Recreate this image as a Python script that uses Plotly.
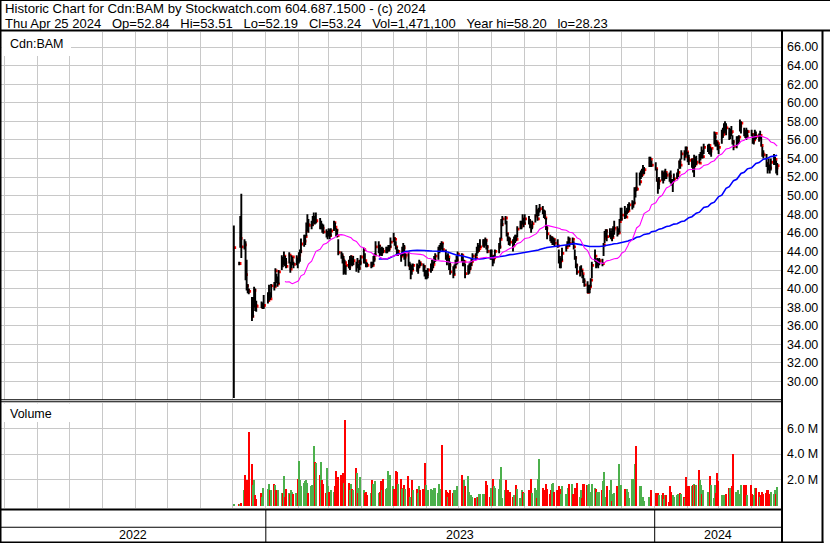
import pandas as pd
import plotly.graph_objects as go

# ---------------- data ----------------
HOLIDAYS = ["2022-12-26", "2022-12-27", "2023-01-02", "2023-02-20", "2023-04-07",
            "2023-05-22", "2023-07-03", "2023-08-07", "2023-09-04", "2023-10-09",
            "2023-12-25", "2023-12-26", "2024-01-01", "2024-02-19", "2024-03-29"]
FIRST_DAY = "2022-12-02"
START_REGULAR = "2022-12-07"
LAST_DAY = "2024-04-25"

high = [
    46.8, 42.9, 47.8, 50.2, 45.3, 45.1, 43.1, 40.5, 40.0, 39.1, 39.1, 40.2, 40.0, 38.7, 38.6, 38.5, 39.3,  # Dec 22
    39.6, 40.4, 39.6, 40.5, 40.7, 42.2, 41.6, 41.3, 42.0, 43.6, 43.4, 44.0, 43.5, 43.3, 43.9, 42.9, 43.6, 43.4, 42.9, 43.6, 43.3,  # Jan 23
    43.9, 44.2, 45.4, 45.8, 45.8, 47.1, 48.0, 47.5, 47.3, 47.8, 48.2, 47.8, 48.2, 47.6, 47.3, 47.0, 46.9, 46.4, 46.2,  # Feb
    46.5, 46.4, 46.5, 47.3, 47.1, 46.5, 46.4, 45.3, 44.0, 43.8, 43.5, 43.1, 42.5, 43.1, 43.5, 43.6, 43.3, 43.5, 42.9, 43.3, 42.7, 43.1, 43.6,  # Mar
    44.4, 43.8, 42.9, 42.8, 42.9, 42.9, 43.5, 43.8, 45.1, 45.1, 44.7, 44.4, 44.5, 44.4, 44.5, 44.5, 44.7, 44.7, 45.5,  # Apr
    46.0, 45.5, 45.1, 44.5, 44.2, 43.8, 44.5, 44.9, 44.7, 43.8, 44.0, 42.9, 42.7, 42.5, 42.7, 42.7, 42.5, 43.1, 42.9, 42.7, 42.5, 42.0,  # May
    42.0, 42.2, 42.7, 43.1, 42.9, 43.5, 43.8, 44.5, 44.7, 44.9, 45.1, 44.9, 44.2, 43.6, 43.8, 43.3, 42.9, 42.4, 42.6, 43.1, 43.5, 44.0,  # Jun
    43.8, 43.5, 43.1, 42.7, 42.5, 42.7, 42.9, 43.3, 43.8, 43.8, 44.5, 44.9, 44.7, 45.3, 45.3, 45.3, 45.5, 45.3, 44.7, 44.2,  # Jul
    44.2, 43.5, 43.6, 44.2, 44.9, 45.5, 47.5, 47.8, 47.8, 47.3, 46.0, 45.6, 45.5, 45.3, 45.6, 45.8, 45.8, 46.7, 47.3, 47.3, 48.0, 47.6,  # Aug
    48.0, 47.8, 47.5, 46.9, 47.3, 48.0, 49.0, 48.5, 48.7, 49.1, 48.9, 48.5, 48.4, 47.6, 46.7, 45.8, 45.6, 45.6, 45.5, 45.3,  # Sep
    45.3, 44.2, 43.5, 43.3, 44.4, 44.7, 45.1, 45.6, 45.5, 45.5, 45.1, 44.2, 43.5, 42.7, 42.4, 42.5, 42.0, 41.5, 41.1, 40.8, 40.4,  # Oct
    40.4, 41.1, 42.9, 44.2, 43.1, 43.3, 43.2, 43.3, 43.2, 44.9, 46.2, 46.4, 46.4, 46.5, 46.2, 46.5, 46.7, 47.3, 46.7, 46.5, 47.5, 48.7,  # Nov
    48.7, 48.9, 48.4, 48.7, 49.1, 49.3, 49.5, 49.4, 50.9, 50.9, 52.5, 52.5, 52.7, 52.9, 53.3, 53.1, 54.2, 54.2, 53.8,  # Dec
    53.6, 52.9, 51.6, 52.0, 52.7, 52.5, 52.7, 52.9, 52.5, 52.5, 52.7, 51.8, 51.8, 52.4, 52.5, 52.9, 53.8, 54.0, 54.9, 54.9, 55.3, 55.3,  # Jan 24
    54.7, 54.4, 54.0, 53.8, 54.4, 54.2, 54.3, 54.5, 54.7, 55.3, 54.9, 55.6, 55.5, 55.6, 55.3, 55.1, 56.9, 56.7, 56.0, 55.8,  # Feb
    55.5, 57.1, 57.3, 57.8, 58.0, 57.8, 57.3, 57.2, 57.5, 56.5, 56.0, 56.4, 56.4, 56.5, 58.2, 58.0, 57.3, 57.1, 57.3, 57.1,  # Mar
    57.1, 56.7, 56.4, 57.1, 56.9, 56.7, 57.0, 56.4, 55.3, 54.9, 54.5, 53.6, 54.0, 53.3, 54.0, 54.5, 54.2, 53.8, 53.51,  # Apr
]
low = [
    28.23, 42.5, 44.4, 43.3, 44.2, 40.9, 39.8, 39.5, 39.4, 36.5, 36.9, 38.0, 37.6, 37.5, 37.9, 37.8, 37.8,
    38.4, 38.7, 38.8, 39.0, 39.8, 40.2, 40.6, 40.2, 40.5, 42.0, 42.3, 42.6, 42.4, 42.2, 42.7, 41.7, 42.2, 42.5, 42.2, 42.5, 42.2,
    42.7, 42.9, 43.8, 44.5, 44.7, 45.6, 46.2, 46.0, 46.4, 46.7, 47.0, 46.9, 47.0, 46.4, 46.4, 46.0, 45.9, 45.5, 45.3,
    45.6, 45.3, 45.6, 46.2, 46.4, 45.6, 45.5, 43.6, 43.2, 42.7, 41.5, 41.6, 41.5, 42.2, 42.0, 42.5, 42.4, 42.5, 41.8, 42.2, 41.7, 42.0, 42.5,
    42.7, 42.7, 42.3, 42.3, 42.2, 42.3, 42.5, 42.9, 43.6, 43.8, 43.5, 43.6, 43.5, 43.8, 43.8, 43.8, 44.0, 44.0, 44.4,
    45.0, 44.6, 44.2, 43.5, 43.5, 42.9, 43.5, 43.6, 43.1, 42.4, 42.4, 42.0, 41.0, 41.5, 42.0, 41.8, 41.6, 42.2, 42.4, 41.8, 41.3, 41.0,
    41.0, 41.1, 41.7, 41.9, 42.2, 42.7, 42.9, 43.1, 43.8, 44.0, 44.2, 44.0, 43.1, 42.5, 43.1, 42.0, 41.5, 41.1, 41.5, 42.2, 42.5, 42.7,
    42.9, 42.4, 42.4, 41.1, 41.5, 41.6, 42.0, 42.4, 42.9, 43.1, 43.5, 43.8, 44.0, 44.4, 44.5, 44.4, 44.6, 44.2, 43.8, 43.1,
    43.1, 42.4, 42.7, 43.3, 43.8, 44.3, 45.4, 46.7, 46.9, 45.6, 45.1, 44.7, 44.6, 44.0, 44.6, 44.9, 45.1, 45.5, 46.4, 46.4, 46.9, 46.6,
    46.9, 46.9, 46.5, 46.0, 46.4, 47.1, 47.8, 47.3, 47.8, 48.2, 48.0, 47.6, 47.5, 46.3, 45.3, 45.1, 44.9, 44.7, 44.7, 44.5,
    44.4, 42.7, 42.2, 42.2, 43.0, 44.0, 44.5, 44.7, 44.5, 44.7, 44.2, 43.1, 42.2, 41.5, 41.3, 41.8, 41.1, 40.6, 40.2, 39.5, 39.5,
    39.5, 40.2, 41.1, 42.9, 42.2, 42.4, 42.2, 42.5, 42.4, 43.5, 44.9, 45.5, 45.1, 45.5, 45.3, 45.1, 45.5, 45.8, 45.6, 45.8, 46.0, 47.3,
    47.3, 47.5, 47.6, 48.0, 48.2, 48.4, 48.5, 48.7, 49.1, 49.8, 50.5, 51.1, 51.8, 52.0, 52.4, 52.3, 53.1, 53.1, 53.1,
    52.7, 51.5, 50.2, 50.7, 51.6, 51.3, 51.6, 51.8, 51.8, 51.5, 51.3, 51.1, 50.4, 51.5, 51.8, 52.0, 52.9, 52.9, 53.9, 53.8, 54.2, 54.4,
    53.6, 53.3, 53.0, 52.5, 52.0, 53.1, 53.3, 53.5, 53.8, 54.0, 54.0, 54.5, 54.7, 54.5, 54.4, 54.2, 55.5, 55.3, 55.3, 54.9,
    54.5, 55.6, 56.2, 56.7, 56.9, 56.5, 56.0, 56.1, 56.4, 55.5, 54.9, 55.1, 55.5, 55.6, 56.9, 56.7, 56.4, 56.2, 56.0, 56.2,
    56.4, 55.6, 55.5, 56.0, 56.1, 55.8, 56.1, 55.3, 54.2, 54.0, 53.1, 52.4, 52.7, 52.4, 52.7, 53.3, 53.3, 52.4, 52.19,
]
close = [
    44.4, 42.7, 45.4, 44.5, 44.7, 41.5, 40.3, 39.8, 39.7, 37.0, 38.1, 39.8, 38.2, 38.1, 38.0, 38.1, 38.2,
    38.7, 39.2, 38.9, 40.3, 40.2, 41.9, 41.0, 40.5, 41.8, 43.2, 42.7, 43.5, 42.8, 42.4, 43.6, 42.1, 43.0, 43.4, 42.6, 43.3, 43.2,
    43.6, 44.0, 44.8, 45.1, 45.6, 46.2, 46.9, 46.8, 46.9, 47.3, 47.5, 47.2, 47.3, 46.6, 46.7, 46.5, 46.1, 45.8, 45.9,
    46.0, 45.7, 46.2, 47.1, 46.6, 46.3, 45.7, 43.9, 43.5, 43.1, 42.1, 42.8, 42.5, 42.3, 43.2, 43.4, 42.7, 43.0, 42.4, 42.9, 42.2, 42.8, 43.4,
    44.2, 43.0, 42.6, 42.5, 42.6, 42.5, 43.2, 43.6, 44.5, 44.6, 44.0, 43.8, 44.2, 44.0, 44.1, 44.2, 44.3, 44.5, 45.0,
    45.4, 45.3, 44.5, 43.9, 44.0, 43.5, 43.6, 44.4, 43.4, 43.6, 42.5, 42.3, 42.4, 42.0, 42.5, 42.2, 42.4, 42.8, 42.6, 42.4, 41.6, 41.3,
    41.5, 42.0, 42.1, 42.4, 42.6, 43.1, 43.5, 44.2, 44.5, 44.6, 44.9, 44.2, 43.4, 43.1, 43.4, 42.5, 41.8, 41.5, 42.3, 42.8, 43.1, 43.7,
    43.6, 42.8, 42.9, 41.6, 42.0, 42.2, 42.6, 42.9, 43.5, 43.3, 44.2, 44.1, 44.3, 44.5, 45.0, 45.1, 45.2, 44.5, 44.0, 43.4,
    43.5, 43.1, 43.3, 44.0, 44.5, 45.3, 46.9, 47.5, 47.6, 45.9, 45.4, 45.3, 45.0, 44.6, 45.2, 45.5, 45.3, 46.4, 46.7, 47.0, 47.5, 47.0,
    47.5, 47.2, 46.8, 46.7, 47.0, 47.8, 48.4, 47.5, 48.5, 48.6, 48.3, 47.9, 47.6, 46.5, 45.9, 45.5, 45.1, 45.2, 45.3, 44.9,
    44.6, 43.2, 42.9, 43.0, 43.8, 44.4, 44.6, 45.3, 44.9, 45.3, 44.5, 43.3, 42.5, 41.8, 41.9, 42.0, 41.6, 40.8, 40.4, 39.6, 40.0,
    40.2, 40.9, 42.5, 43.5, 42.5, 42.8, 42.9, 43.0, 42.7, 44.7, 45.4, 46.2, 45.6, 45.8, 45.9, 45.5, 46.3, 46.5, 46.3, 46.0, 47.2, 47.5,
    47.9, 47.8, 47.7, 48.3, 48.4, 49.0, 49.1, 49.2, 50.6, 50.8, 50.7, 51.5, 52.2, 52.3, 52.5, 52.8, 53.5, 53.9, 53.3,
    52.9, 51.7, 51.3, 51.6, 52.4, 52.0, 52.3, 52.5, 52.2, 52.1, 51.6, 51.4, 51.6, 51.8, 52.2, 52.5, 53.6, 53.3, 54.5, 54.2, 55.1, 54.7,
    54.0, 53.8, 53.9, 53.0, 53.6, 53.4, 53.6, 53.5, 54.5, 54.8, 54.2, 55.2, 55.3, 55.4, 54.8, 55.1, 56.3, 56.7, 55.8, 55.6,
    55.2, 56.5, 56.6, 56.9, 57.4, 57.3, 56.7, 56.8, 56.9, 55.8, 55.3, 55.7, 56.0, 56.3, 57.5, 57.8, 56.9, 56.6, 56.4, 56.9,
    56.6, 55.8, 56.0, 56.5, 56.4, 56.1, 56.5, 55.4, 54.5, 54.4, 53.5, 53.3, 53.1, 53.0, 53.6, 53.7, 53.9, 53.0, 53.24,
]
volume_m = [
    0.1, 0.1, 0.15, 0.2, 1.2, 2.4, 1.9, 2.0, 5.7, 3.2, 1.6, 2.0, 0.8, 0.5, 1.0, 0.7, 1.4,
    1.3, 1.7, 1.2, 1.2, 1.7, 1.6, 1.2, 1.0, 1.2, 1.0, 1.0, 2.3, 0.7, 1.3, 1.0, 0.9, 1.2, 1.1, 0.9, 1.0, 2.1,
    3.5, 2.0, 1.5, 1.8, 1.9, 2.0, 1.8, 1.0, 1.5, 1.6, 4.6, 3.4, 3.3, 2.4, 3.4, 2.0, 1.7, 1.0, 2.9,
    1.5, 1.1, 1.2, 1.1, 1.5, 2.7, 1.2, 2.2, 2.4, 1.8, 2.5, 1.8, 6.6, 1.8, 1.2, 1.7, 1.3, 1.2, 2.9, 2.5, 1.0, 1.4, 2.2,
    1.2, 1.0, 1.1, 0.8, 1.0, 2.0, 1.7, 1.2, 1.9, 1.0, 1.1, 1.9, 1.2, 2.1, 1.3, 1.4, 2.7, 1.4, 2.4,
    1.5, 1.3, 2.7, 2.6, 1.7, 2.1, 1.3, 1.4, 1.6, 1.3, 2.3, 1.4, 0.7, 2.0, 1.2, 1.3, 1.0, 1.5, 1.2, 1.3, 1.0, 3.3,
    1.6, 1.2, 1.3, 1.2, 1.0, 1.4, 1.4, 1.0, 1.7, 1.3, 1.2, 4.7, 1.2, 1.1, 0.7, 1.0, 1.2, 1.0, 1.2, 1.2, 0.5, 1.5,
    2.4, 1.4, 2.0, 1.5, 2.3, 1.1, 0.8, 0.8, 0.7, 0.6, 0.7, 0.7, 0.9, 0.9, 0.9, 0.9, 0.8, 1.9, 1.6, 0.7,
    1.4, 2.1, 1.5, 1.4, 1.3, 2.1, 3.0, 0.6, 1.2, 2.0, 0.6, 1.2, 1.1, 0.7, 0.8, 0.6, 1.6, 1.3, 0.6, 0.5, 1.2, 1.1,
    1.0, 1.2, 0.7, 2.1, 1.0, 1.4, 1.2, 0.6, 2.1, 3.6, 1.4, 1.2, 0.4, 1.7, 1.3, 0.9, 1.2, 1.7, 1.8, 1.1,
    1.2, 1.5, 1.3, 0.9, 1.5, 0.9, 0.4, 1.4, 1.7, 1.7, 0.9, 1.4, 1.4, 1.8, 0.7, 1.2, 0.6, 1.7, 1.7, 1.6, 1.6,
    1.7, 1.1, 1.7, 1.4, 1.3, 1.1, 0.5, 1.1, 1.2, 1.9, 2.6, 0.7, 1.5, 1.2, 2.0, 0.4, 0.9, 1.0, 1.5, 1.4, 3.2, 1.6,
    1.6, 1.3, 1.0, 1.3, 1.1, 0.6, 2.1, 2.1, 2.1, 3.2, 4.6, 1.5, 1.5, 0.7, 0.7, 0.4, 0.7, 0.5, 1.2,
    1.0, 0.9, 1.0, 0.8, 0.8, 1.0, 0.5, 0.8, 0.8, 0.3, 1.5, 1.1, 0.8, 0.7, 0.8, 0.9, 0.8, 1.0, 0.9, 0.7, 0.6, 2.2,
    1.5, 1.5, 1.5, 1.6, 1.7, 1.6, 1.6, 2.8, 2.0, 1.6, 0.9, 1.2, 1.1, 1.0, 2.3, 1.6, 0.6, 1.6, 1.0, 2.5,
    1.9, 0.8, 0.8, 0.6, 0.8, 0.9, 1.4, 1.4, 1.4, 1.5, 4.0, 1.1, 1.2, 0.9, 0.4, 1.6, 1.6, 1.6, 1.6, 0.8,
    1.6, 0.9, 0.8, 1.4, 1.4, 1.1, 0.7, 0.8, 1.1, 0.9, 1.0, 1.2, 1.2, 0.9, 1.1, 0.9, 1.2, 0.9, 1.4711,
]
price_ticks = [30, 32, 34, 36, 38, 40, 42, 44, 46, 48, 50, 52, 54, 56, 58, 60, 62, 64, 66]
vol_ticks = [2, 4, 6]
vol_tick_text = ["2.0 M", "4.0 M", "6.0 M"]
year_labels = ["2022", "2023", "2024"]
year_bounds = ["2022-04-26 12:00", "2023-01-01", "2024-01-01", "2024-04-29 12:00"]
header1 = "Historic Chart for Cdn:BAM by Stockwatch.com 604.687.1500 - (c) 2024"
header2_fields = ["Thu Apr 25 2024", "Op=52.84", "Hi=53.51", "Lo=52.19", "Cl=53.24",
                  "Vol=1,471,100", "Year hi=58.20", "lo=28.23"]
MA_FAST, MA_SLOW = 30, 90

# ---------------- build ----------------
dates = [pd.Timestamp(FIRST_DAY)] + list(
    pd.bdate_range(START_REGULAR, LAST_DAY, freq="C", holidays=HOLIDAYS))
n = len(dates)
assert len(high) == n and len(low) == n and len(close) == n and len(volume_m) == n, (
    n, len(high), len(low), len(close), len(volume_m))

W, H = 830, 543
def px(x):
    return x / W
def py(y):
    return 1 - y / H

GRID = "#c8c8c8"
FONT = "Liberation Sans, Arial, sans-serif"
GREEN, RED, GRAY = "#4cb04c", "#ff0000", "#a8a8a8"

seg_x, seg_y = [], []
for d, lo_, hi_ in zip(dates, low, high):
    seg_x += [d, d, None]
    seg_y += [lo_, hi_, None]

close_s = pd.Series(close)
ma_fast = close_s.rolling(MA_FAST).mean()
ma_slow = close_s.rolling(MA_SLOW).mean()

vol_colors = [GREEN]
for p, c in zip(close[:-1], close[1:]):
    vol_colors.append(GREEN if c > p else (RED if c < p else GRAY))

fig = go.Figure()
# close ticks (drawn first, slightly right of each bar)
fig.add_trace(go.Scatter(
    x=[d + pd.Timedelta(hours=20) for d in dates], y=close, mode="markers",
    marker=dict(symbol="square", size=2.8, color=RED, line=dict(width=0)),
    hoverinfo="skip", xaxis="x", yaxis="y"))
fig.add_trace(go.Scatter(x=seg_x, y=seg_y, mode="lines",
                         line=dict(color="black", width=1.9),
                         hoverinfo="skip", xaxis="x", yaxis="y"))
fig.add_trace(go.Scatter(x=dates, y=ma_slow, mode="lines",
                         line=dict(color="#0000ff", width=1.6),
                         hoverinfo="skip", xaxis="x", yaxis="y"))
fig.add_trace(go.Scatter(x=dates, y=ma_fast, mode="lines",
                         line=dict(color="#ff00ff", width=1.1),
                         hoverinfo="skip", xaxis="x", yaxis="y"))
fig.add_trace(go.Bar(x=dates, y=volume_m, marker=dict(color=vol_colors, line=dict(width=0)),
                     width=86400000 * 1.4, hoverinfo="skip", xaxis="x2", yaxis="y2"))

xr = [year_bounds[0], year_bounds[-1]]
xcommon = dict(type="date", range=xr, domain=[0, px(782)], showgrid=True,
               gridcolor=GRID, gridwidth=1, dtick="M1", tick0="2022-05-01",
               showticklabels=False, ticks="", zeroline=False, showline=False)

fig.update_layout(
    width=W, height=H, margin=dict(l=0, r=0, t=0, b=0),
    paper_bgcolor="white", plot_bgcolor="white", showlegend=False, bargap=0,
    font=dict(family=FONT, color="black"),
    xaxis=dict(anchor="y", **xcommon),
    xaxis2=dict(anchor="y2", matches="x", **xcommon),
    yaxis=dict(domain=[py(399.5), py(32)], range=[28.06, 67.62], side="right",
               tickvals=price_ticks, ticktext=[f"{v:.2f}" for v in price_ticks],
               showgrid=True, gridcolor=GRID, gridwidth=1, ticks="",
               zeroline=False, showline=False, ticklabelstandoff=4,
               tickfont=dict(size=12.5, family=FONT, color="black"), anchor="x"),
    yaxis2=dict(domain=[py(508), py(403)], range=[-0.17, 7.95], side="right",
                tickvals=vol_ticks, ticktext=vol_tick_text,
                showgrid=True, gridcolor=GRID, gridwidth=1, ticks="",
                zeroline=False, showline=False, ticklabelstandoff=4,
                tickfont=dict(size=12.5, family=FONT, color="black"), anchor="x2"),
)

shapes = []
def rect(x0, y0, x1, y1, color="black"):
    shapes.append(dict(type="rect", xref="paper", yref="paper",
                       x0=px(x0), x1=px(x1), y0=py(y1), y1=py(y0),
                       fillcolor=color, line=dict(width=0), layer="above"))

# label boxes that hide the grid
rect(1.5, 32, 71, 56, "white")
rect(1.5, 403.5, 71, 422, "white")
# frame
rect(0, 0, W, 1)              # top
rect(0, 0, 1.5, H)            # left
rect(0, 29.5, W, 31.5)        # under header
rect(781, 30, 783, H)         # plot / label separator
rect(821.5, 30, 823.5, H)     # right border
rect(0, 399.3, 782, 400.3)    # price bottom (double line)
rect(0, 401.3, 782, 402.3)
rect(0, 508.5, 782, 510.5)    # volume bottom
rect(0, 526.7, 782, 527.7)    # band divider
rect(0, 541.5, 823.5, H)      # bottom
for b in year_bounds[1:-1]:
    shapes.append(dict(type="line", xref="x", yref="paper", x0=b, x1=b,
                       y0=py(543), y1=py(510), line=dict(color="black", width=1),
                       layer="above"))
fig.update_layout(shapes=shapes)

ann = []
sp = "\u00a0\u00a0\u00a0"
ann.append(dict(text=header1, x=px(3), y=py(9.0), xref="paper", yref="paper",
                xanchor="left", yanchor="middle", showarrow=False,
                font=dict(size=13.2, family=FONT, color="black")))
ann.append(dict(text=sp.join(header2_fields), x=px(3), y=py(23.0), xref="paper", yref="paper",
                xanchor="left", yanchor="middle", showarrow=False,
                font=dict(size=13.0, family=FONT, color="black")))
ann.append(dict(text="Cdn:BAM", x=px(8), y=py(44), xref="paper", yref="paper",
                xanchor="left", yanchor="middle", showarrow=False,
                font=dict(size=12.5, family=FONT, color="black")))
ann.append(dict(text="Volume", x=px(8), y=py(413.5), xref="paper", yref="paper",
                xanchor="left", yanchor="middle", showarrow=False,
                font=dict(size=12.5, family=FONT, color="black")))
for lab, a, b in zip(year_labels, year_bounds[:-1], year_bounds[1:]):
    mid = pd.Timestamp(a) + (pd.Timestamp(b) - pd.Timestamp(a)) / 2
    ann.append(dict(text=lab, x=mid, y=py(535), xref="x", yref="paper",
                    xanchor="center", yanchor="middle", showarrow=False,
                    font=dict(size=12.5, family=FONT, color="black")))
fig.update_layout(annotations=ann)

fig.write_html("out.html", config={"displayModeBar": False},
               post_script="document.body.style.margin='0px';document.body.style.padding='0px';")
